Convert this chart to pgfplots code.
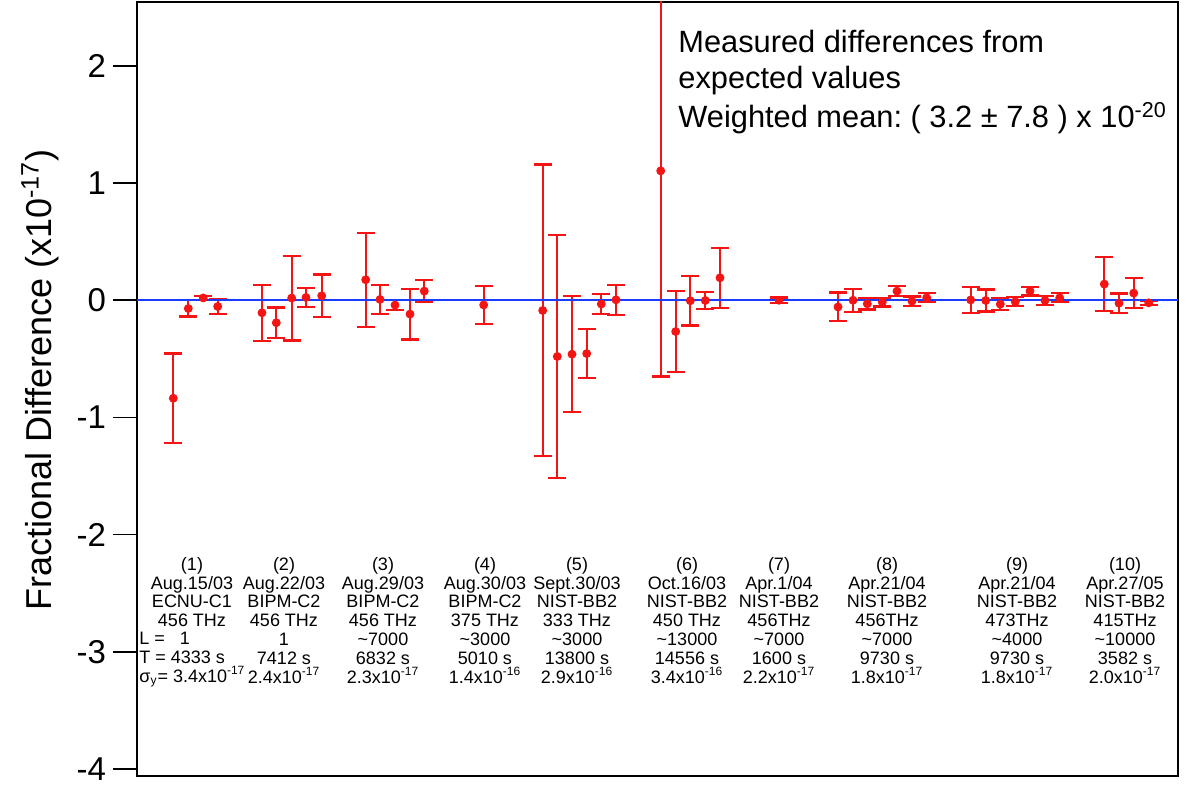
\documentclass[border=0pt]{standalone}
\usepackage{fontspec}
\setmainfont{Liberation Sans}
\usepackage{pgfplots}
\pgfplotsset{compat=1.18}
\usepackage{pgfplotstable}
\definecolor{myred}{RGB}{245,20,20}
\definecolor{myblue}{RGB}{25,60,255}

\pgfplotstableread{
x y e
173.3 -0.836 0.382
188.3 -0.070 0.069
203.3 0.020 0.015
217.7 -0.053 0.062
262 -0.107 0.240
276.3 -0.192 0.130
291.7 0.019 0.362
306 0.024 0.080
321.7 0.038 0.181
365.7 0.175 0.400
380 0.007 0.122
395 -0.041 0.040
410 -0.118 0.216
424.3 0.078 0.094
483.7 -0.040 0.160
542.7 -0.087 1.245
557.3 -0.480 1.038
572 -0.460 0.496
586.7 -0.455 0.210
601.3 -0.032 0.085
616 0.004 0.128
660.7 1.104 1.755
675.7 -0.267 0.343
690.3 -0.004 0.212
705.3 -0.002 0.072
720 0.192 0.255
779 0.000 0.023
838 -0.057 0.123
853 0.000 0.098
867.3 -0.030 0.048
882.3 -0.016 0.038
897 0.078 0.042
912 -0.008 0.040
926.7 0.021 0.038
970.7 0.003 0.112
985.7 -0.002 0.094
1000.3 -0.033 0.048
1015.3 -0.013 0.038
1030 0.078 0.038
1045 -0.002 0.038
1059.7 0.021 0.038
1104.3 0.138 0.228
1119 -0.025 0.082
1133.7 0.061 0.128
1148.7 -0.022 0.016
}\data

\newcommand{\colfont}{\fontsize{9}{9.4}\selectfont}
\newcommand{\topfont}{\fontsize{15.4}{17}\selectfont}
\newcommand{\sci}[2]{#1x10\textsuperscript{#2}}

\begin{document}
\begin{tikzpicture}
\begin{axis}[
  scale only axis,
  width=520.5pt, height=387pt,
  xmin=137, xmax=1178, ymin=-4.059, ymax=2.545,
  xtick=\empty,
  ytick={-4,-3,-2,-1,0,1,2},
  yticklabels={-4,-3,-2,-1,0,1,2},
  ytick pos=left,
  tick align=outside,
  major tick length=12pt,
  tick style={black, line width=0.8pt},
  axis line style={line width=1.2pt},
  yticklabel style={font=\fontsize{16.5}{18}\selectfont},
  ylabel={Fractional Difference (x10\textsuperscript{-17})},
  ylabel style={font=\fontsize{18}{20}\selectfont, at={(axis description cs:-0.0932,0.512)}, anchor=center},
]
\addplot[only marks, mark=*, mark size=2pt, color=myred,
  mark options={fill=myred, draw=myred},
  error bars/.cd, y dir=both, y explicit,
  error bar style={line width=1.1pt, myred},
  error mark options={rotate=90, myred, line width=1.1pt, mark size=4.5pt}]
  table[x=x, y=y, y error=e] {\data};
\addplot[myblue, line width=1pt] coordinates {(137,0) (1178,0)};

\node[anchor=base west, inner sep=0pt, font=\topfont] at (axis cs:678,2.110) {Measured differences from};
\node[anchor=base west, inner sep=0pt, font=\topfont] at (axis cs:678,1.811) {expected values};
\node[anchor=base west, inner sep=0pt, font=\topfont] at (axis cs:678,1.470) {\frenchspacing Weighted mean: ( 3.2 ± 7.8 ) x 10\textsuperscript{-20}};

\node[anchor=north, align=center, inner sep=0pt, font=\colfont] at (axis cs:192,-2.190) {(1)\\Aug.15/03\\ECNU-C1\\456 THz};
\node[anchor=north west, align=left, inner sep=0pt, font=\colfont] at (axis cs:139,-2.830) {L =\ \ \ 1\\T = 4333 s\\σ\textsubscript{y}= \sci{3.4}{-17}};
\node[anchor=north, align=center, inner sep=0pt, font=\colfont] at (axis cs:284,-2.190) {(2)\\Aug.22/03\\BIPM-C2\\456 THz\\1\\7412 s\\\sci{2.4}{-17}};
\node[anchor=north, align=center, inner sep=0pt, font=\colfont] at (axis cs:383,-2.190) {(3)\\Aug.29/03\\BIPM-C2\\456 THz\\\textasciitilde7000\\6832 s\\\sci{2.3}{-17}};
\node[anchor=north, align=center, inner sep=0pt, font=\colfont] at (axis cs:485,-2.190) {(4)\\Aug.30/03\\BIPM-C2\\375 THz\\\textasciitilde3000\\5010 s\\\sci{1.4}{-16}};
\node[anchor=north, align=center, inner sep=0pt, font=\colfont] at (axis cs:577,-2.190) {(5)\\Sept.30/03\\NIST-BB2\\333 THz\\\textasciitilde3000\\13800 s\\\sci{2.9}{-16}};
\node[anchor=north, align=center, inner sep=0pt, font=\colfont] at (axis cs:687,-2.190) {(6)\\Oct.16/03\\NIST-BB2\\450 THz\\\textasciitilde13000\\14556 s\\\sci{3.4}{-16}};
\node[anchor=north, align=center, inner sep=0pt, font=\colfont] at (axis cs:779,-2.190) {(7)\\Apr.1/04\\NIST-BB2\\456THz\\\textasciitilde7000\\1600 s\\\sci{2.2}{-17}};
\node[anchor=north, align=center, inner sep=0pt, font=\colfont] at (axis cs:887,-2.190) {(8)\\Apr.21/04\\NIST-BB2\\456THz\\\textasciitilde7000\\9730 s\\\sci{1.8}{-17}};
\node[anchor=north, align=center, inner sep=0pt, font=\colfont] at (axis cs:1017,-2.190) {(9)\\Apr.21/04\\NIST-BB2\\473THz\\\textasciitilde4000\\9730 s\\\sci{1.8}{-17}};
\node[anchor=north, align=center, inner sep=0pt, font=\colfont] at (axis cs:1125,-2.190) {(10)\\Apr.27/05\\NIST-BB2\\415THz\\\textasciitilde10000\\3582 s\\\sci{2.0}{-17}};
\end{axis}
\path ([shift={(-68.5pt,-5pt)}]current axis.south west) rectangle ([shift={(5.5pt,1pt)}]current axis.north east);
\end{tikzpicture}
\end{document}
